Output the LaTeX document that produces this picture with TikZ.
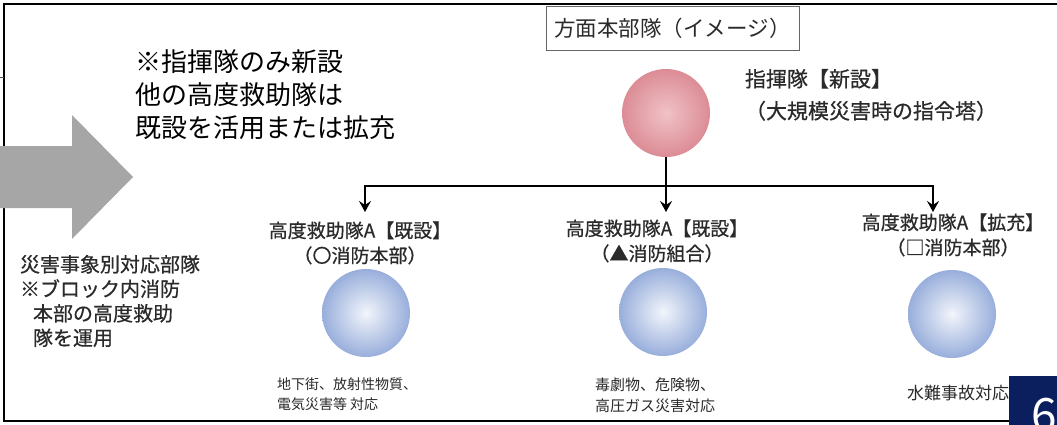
\documentclass[tikz,border=0pt]{standalone}
\usepackage{fontspec}
\setmainfont{Noto Sans CJK JP}
\newfontfamily\boldish[FakeBold=0.6]{Noto Sans CJK JP}
\usetikzlibrary{arrows.meta}
\definecolor{txt}{HTML}{2A2A2A}
\definecolor{arrowgray}{HTML}{A6A6A6}
\definecolor{navy}{HTML}{0B1F5E}
\definecolor{pinkin}{HTML}{F0C2C7}
\definecolor{pinkout}{HTML}{DC8C95}
\definecolor{bluein}{HTML}{F2F5FB}
\definecolor{blueout}{HTML}{98AEDB}
\tikzset{
  txtnode/.style={inner sep=0pt, outer sep=0pt, text=txt},
  redball/.style={circle, minimum size=88pt, inner sep=0pt, inner color=pinkin, outer color=pinkout},
  blueball/.style={circle, minimum size=88pt, inner sep=0pt, inner color=bluein, outer color=blueout},
  conn/.style={line width=2.6pt, black},
  arr/.style={conn, -{Stealth[length=11pt,width=12pt,inset=4pt]}},
  frameline/.style={line width=2pt, black}
}
\begin{document}
\begin{tikzpicture}[x=1pt,y=-1pt]
\useasboundingbox (0,0) rectangle (1057,425);
\fill[white] (0,0) rectangle (1057,425);
% frame
\coordinate (ftr) at (1057,4);
\coordinate (ftl) at (4,4);
\coordinate (fbl) at (4,421);
\coordinate (fbr) at (1009,421);
\draw[frameline] (ftr) -- (ftl) -- (fbl) -- (fbr);
\coordinate (tk1) at (0,78);
\coordinate (tk2) at (4,78);
\draw[line width=1pt, black!70] (tk1) -- (tk2);
% gray arrow
\fill[arrowgray] (0,146) -- (72,146) -- (72,115) -- (133,177) -- (72,239) -- (72,208) -- (0,208) -- cycle;
% note
\node[txtnode, text=black, anchor=north west, align=left, font=\fontsize{26}{33}\selectfont] (note) at (135,50)
  {※指揮隊のみ新設\\他の高度救助隊は\\既設を活用または拡充};
% title box
\node[draw=black!60, line width=0.8pt, minimum width=253pt, minimum height=44pt, inner sep=0pt, text=txt, font=\fontsize{21.5}{24}\selectfont] (title) at (672.5,28) {方面本部隊（イメージ）};
% command unit
\node[redball] (red) at (666,113) {};
\node[txtnode, anchor=north west, align=left, font=\boldish\fontsize{21}{32}\selectfont] (redlbl) at (745,69)
  {指揮隊【新設】\\（大規模災害時の指令塔）};
% connectors
\coordinate (hj) at (666,186);
\coordinate (a1) at (365,212);
\coordinate (a2) at (666,212);
\coordinate (a3) at (933,212);
\draw[arr] (red.south) -- (a2);
\draw[arr] (hj) -| (a1);
\draw[arr] (hj) -| (a3);
% left block
\node[txtnode, anchor=north west, align=left, font=\boldish\fontsize{20}{24.5}\selectfont] (leftblk) at (20,255)
  {災害事象別対応部隊\\※ブロック内消防\\\hspace*{13pt}本部の高度救助\\\hspace*{13pt}隊を運用};
% units
\node[txtnode, anchor=north, align=center, font=\boldish\fontsize{19}{25}\selectfont] (lbl1) at (360,221.5)
  {高度救助隊A【既設】\\（〇消防本部）};
\node[txtnode, anchor=north, align=center, font=\boldish\fontsize{19}{25}\selectfont] (lbl2) at (657,219.5)
  {高度救助隊A【既設】\\（▲消防組合）};
\node[txtnode, anchor=north, align=center, font=\boldish\fontsize{19}{25}\selectfont] (lbl3) at (953,213.5)
  {高度救助隊A【拡充】\\（□消防本部）};
\node[blueball] (b1) at (366,313) {};
\node[blueball] (b2) at (663,312) {};
\node[blueball] (b3) at (952,314) {};
\node[txtnode, anchor=north west, align=left, font=\fontsize{14}{20}\selectfont] (d1) at (277,378)
  {地下街、放射性物質、\\電気災害等 対応};
\node[txtnode, anchor=north west, align=left, font=\fontsize{15}{21}\selectfont] (d2) at (595,377.5)
  {毒劇物、危険物、\\高圧ガス災害対応};
\node[txtnode, anchor=west, font=\fontsize{17}{20}\selectfont] (d3) at (907,393) {水難事故対応};
% page number box
\fill[navy] (1009,376) rectangle (1057,425);
\begin{scope}
\clip (1009,376) rectangle (1057,425);
\node[inner sep=0pt, anchor=north west, text=white, font=\fontsize{46}{46}\selectfont] (pg) at (1031,398) {6};
\end{scope}
\end{tikzpicture}
\end{document}
